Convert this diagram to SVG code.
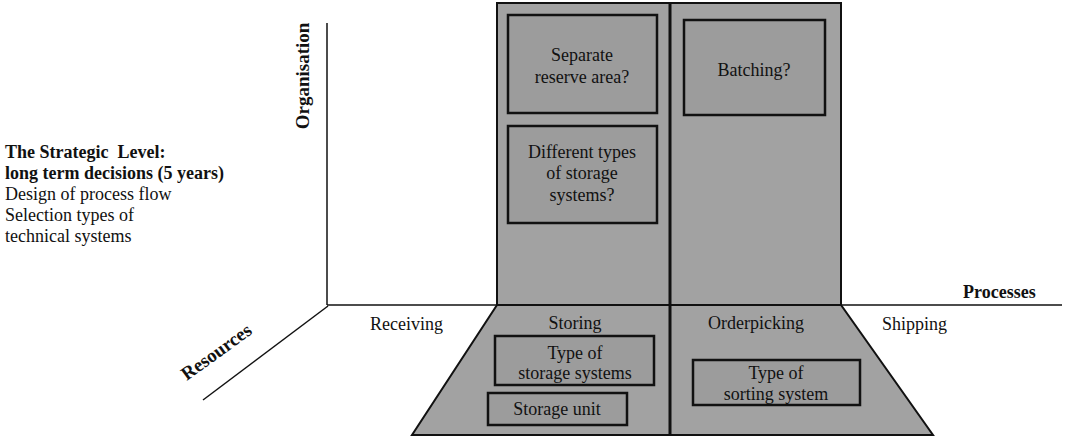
<svg xmlns="http://www.w3.org/2000/svg" width="1066" height="436" viewBox="0 0 1066 436">
<style>
.t{font-family:"Liberation Serif","Times New Roman",serif;font-size:18px;fill:#111}
.b{font-weight:bold}
.c{text-anchor:middle}
.g{fill:#a2a2a2;stroke:#111;stroke-width:2}
.bx{fill:#9c9c9c;stroke:#111;stroke-width:2.5}
.ax{stroke:#111;stroke-width:1.5;fill:none}
</style>
<rect width="1066" height="436" fill="#fff"/>
<g id="connectors">
<line class="ax" x1="327" y1="23" x2="327" y2="305"/>
<line class="ax" x1="327" y1="305" x2="1062" y2="305"/>
<line class="ax" x1="328" y1="306" x2="203" y2="400"/>
</g>
<g id="panel-top">
<rect class="g" x="497" y="3" width="344" height="302"/>
</g>
<g id="panel-bottom">
<polygon class="g" points="497,305 841,305 933,435 412,435"/>
</g>
<line x1="670" y1="3" x2="670" y2="435" stroke="#111" stroke-width="3"/>
<g id="left-text">
<text class="t b" x="5" y="158" style="white-space:pre">The Strategic  Level:</text>
<text class="t b" x="5" y="179">long term decisions (5 years)</text>
<text class="t" x="5" y="200">Design of process flow</text>
<text class="t" x="5" y="221">Selection types of</text>
<text class="t" x="5" y="242">technical systems</text>
</g>
<g id="axis-labels">
<text class="t b c" style="font-size:19px" transform="translate(309,76) rotate(-90)">Organisation</text>
<text class="t b" x="963" y="298">Processes</text>
<text class="t b c" style="font-size:19px" transform="translate(220,357) rotate(-36)">Resources</text>
<text class="t" x="370" y="330">Receiving</text>
<text class="t" x="882" y="330">Shipping</text>
</g>
<g id="separate-reserve">
<rect class="bx" x="508" y="15" width="149" height="98"/>
<text class="t c" x="582" y="61">Separate</text>
<text class="t c" x="582" y="83">reserve area?</text>
</g>
<g id="different-types">
<rect class="bx" x="508" y="126" width="149" height="97"/>
<text class="t c" x="582" y="158">Different types</text>
<text class="t c" x="582" y="179">of storage</text>
<text class="t c" x="582" y="201">systems?</text>
</g>
<g id="batching">
<rect class="bx" x="684" y="20" width="141" height="95"/>
<text class="t c" x="754" y="76">Batching?</text>
</g>
<g id="storing">
<text class="t c" x="575" y="329">Storing</text>
</g>
<g id="orderpicking">
<text class="t c" x="756" y="329">Orderpicking</text>
</g>
<g id="type-storage">
<rect class="bx" x="495" y="336" width="159" height="49"/>
<text class="t c" x="575" y="359">Type of</text>
<text class="t c" x="575" y="379">storage systems</text>
</g>
<g id="storage-unit">
<rect class="bx" x="488" y="393" width="139" height="32"/>
<text class="t c" x="557" y="415">Storage unit</text>
</g>
<g id="type-sorting">
<rect class="bx" x="693" y="360" width="167" height="45"/>
<text class="t c" x="776" y="379">Type of</text>
<text class="t c" x="776" y="400">sorting system</text>
</g>
</svg>
